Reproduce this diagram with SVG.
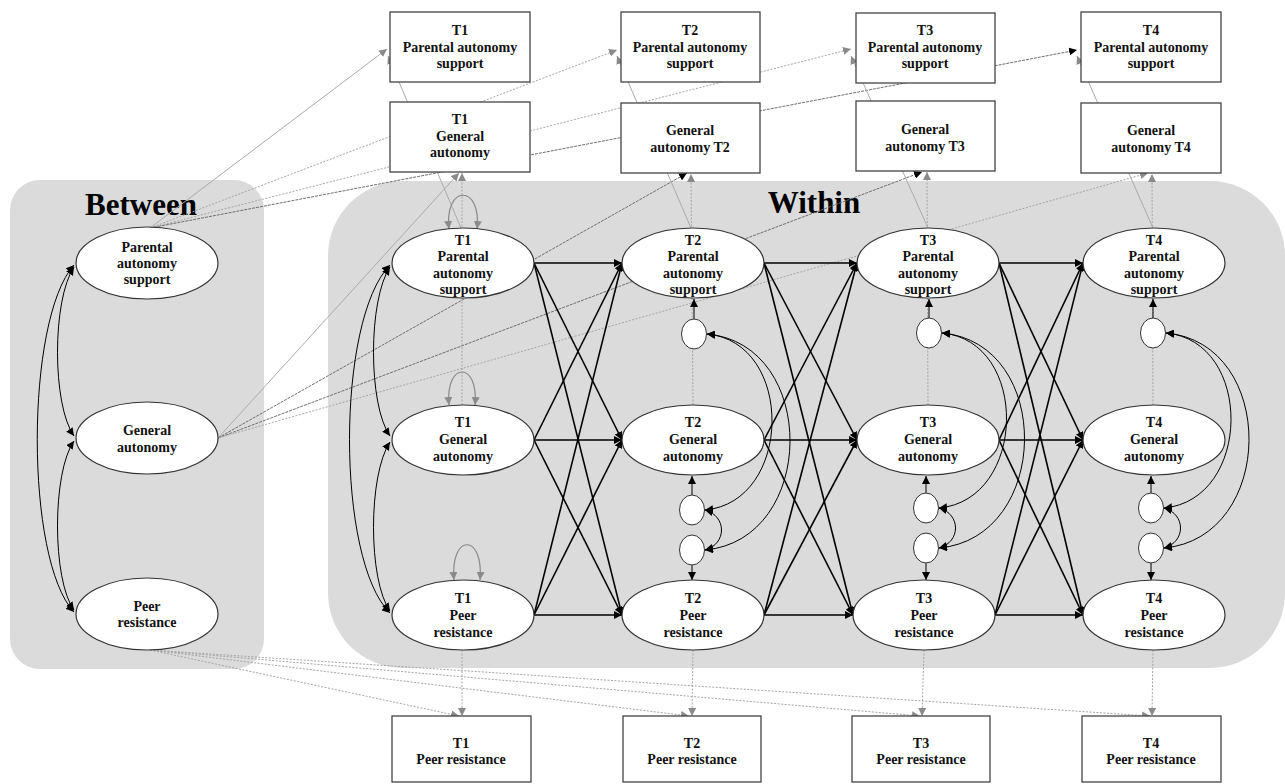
<svg xmlns="http://www.w3.org/2000/svg" width="1285" height="784" viewBox="0 0 1285 784">
<defs>
<marker id="ab" viewBox="0 0 10 10" refX="10" refY="5" markerWidth="8" markerHeight="8" orient="auto-start-reverse" markerUnits="userSpaceOnUse"><path d="M0,0 L10,5 L0,10 z" fill="#000"/></marker>
<marker id="ag" viewBox="0 0 10 10" refX="10" refY="5" markerWidth="8" markerHeight="8" orient="auto-start-reverse" markerUnits="userSpaceOnUse"><path d="M0,0 L10,5 L0,10 z" fill="#8a8a8a"/></marker>
</defs>
<style>
.t{font-family:"Liberation Serif","Times New Roman",serif;font-weight:bold;font-size:14px;text-anchor:middle;fill:#111}
.h{font-family:"Liberation Serif","Times New Roman",serif;font-weight:bold;font-size:31px;text-anchor:middle;fill:#000}
.panel{fill:#dbdbdb}
.el{fill:#fff;stroke:#333;stroke-width:1.2}
.er{fill:#fff;stroke:#333;stroke-width:1}
.box{fill:#fff;stroke:#444;stroke-width:1.3}
.cl{stroke:#000;stroke-width:1.6;fill:none;marker-end:url(#ab)}
.ar{stroke:#000;stroke-width:1;fill:none;marker-end:url(#ab)}
.cov{stroke:#000;stroke-width:1;fill:none;marker-start:url(#ab);marker-end:url(#ab)}
.loop{stroke:#8a8a8a;stroke-width:1.2;fill:none;marker-start:url(#ag);marker-end:url(#ag)}
.gs{stroke:#aaa;stroke-width:1;fill:none;marker-end:url(#ag)}
.gd{stroke:#a5a5a5;stroke-width:1;stroke-dasharray:2,1.5;fill:none;marker-end:url(#ag)}
.dd{stroke:#6e6e6e;stroke-width:1;stroke-dasharray:3,1;fill:none;marker-end:url(#ab)}
</style>
<rect x="0" y="0" width="1285" height="784" fill="#fff"/>
<g id="panels">
<rect class="panel" x="10" y="180" width="254" height="489" rx="30"/>
<rect class="panel" x="328" y="181" width="957" height="487" rx="75"/>
<text class="h" x="141" y="215">Between</text>
<text class="h" x="814" y="213">Within</text>
</g>
<g id="connectors">
<!-- between PAS to PAS boxes -->
<line class="gs" x1="150" y1="228" x2="387" y2="49"/>
<line class="gd" x1="150" y1="228" x2="617" y2="50"/>
<line class="gd" x1="150" y1="228" x2="851" y2="49"/>
<line class="dd" x1="150" y1="228" x2="1077" y2="50"/>
<!-- between General to General boxes -->
<line class="gs" x1="218" y1="438" x2="459" y2="173"/>
<line class="dd" x1="218" y1="438" x2="687" y2="173"/>
<line class="dd" x1="218" y1="438" x2="922" y2="172"/>
<line class="gd" x1="218" y1="438" x2="1148" y2="173"/>
<!-- between Peer to Peer boxes -->
<line class="gd" x1="150" y1="650" x2="459" y2="716"/>
<line class="gd" x1="150" y1="650" x2="689" y2="716"/>
<line class="gd" x1="150" y1="650" x2="920" y2="716"/>
<line class="gd" x1="150" y1="650" x2="1150" y2="716"/>
<!-- within PAS to PAS boxes -->
<line class="gs" x1="461" y1="228" x2="388" y2="56"/>
<line class="gs" x1="691" y1="228" x2="617" y2="56"/>
<line class="gs" x1="928" y1="228" x2="851" y2="56"/>
<line class="gs" x1="1153" y1="228" x2="1077" y2="56"/>
<!-- within General to General boxes -->
<line class="gd" x1="462" y1="405" x2="462" y2="173"/>
<line class="gd" x1="693" y1="405" x2="691" y2="174"/>
<line class="gd" x1="928" y1="405" x2="927" y2="172"/>
<line class="gd" x1="1153" y1="405" x2="1152" y2="174"/>
<!-- within Peer to Peer boxes -->
<line class="gd" x1="462" y1="650" x2="462" y2="716"/>
<line class="gd" x1="693" y1="650" x2="692" y2="716"/>
<line class="gd" x1="924" y1="650" x2="922" y2="716"/>
<line class="gd" x1="1153" y1="650" x2="1152" y2="716"/>
<!-- T1 variance loops -->
<path class="loop" d="M449 229 C444 184 482 184 477 229"/>
<path class="loop" d="M449 405 C445 361 479 361 475 405"/>
<path class="loop" d="M454 580 C450 533 484 533 480 580"/>
<!-- between covariances -->
<path class="cov" d="M74 267 C52 300 52 405 74 436"/>
<path class="cov" d="M74 265 C25 320 25 560 74 612"/>
<path class="cov" d="M74 441 C52 472 52 580 74 610"/>
<!-- T1 within covariances -->
<path class="cov" d="M390 267 C368 300 368 405 390 436"/>
<path class="cov" d="M390 265 C336 320 336 560 390 613"/>
<path class="cov" d="M390 442 C368 475 368 580 390 611"/>
<!-- cross-lagged T1->T2 -->
<line class="cl" x1="534" y1="263" x2="622" y2="263"/>
<line class="cl" x1="534" y1="263" x2="622" y2="440"/>
<line class="cl" x1="534" y1="263" x2="622" y2="615"/>
<line class="cl" x1="534" y1="440" x2="622" y2="263"/>
<line class="cl" x1="534" y1="440" x2="622" y2="440"/>
<line class="cl" x1="534" y1="440" x2="622" y2="615"/>
<line class="cl" x1="534" y1="615" x2="622" y2="263"/>
<line class="cl" x1="534" y1="615" x2="622" y2="440"/>
<line class="cl" x1="534" y1="615" x2="622" y2="615"/>
<!-- T2->T3 -->
<line class="cl" x1="764" y1="263" x2="857" y2="263"/>
<line class="cl" x1="764" y1="263" x2="857" y2="440"/>
<line class="cl" x1="764" y1="263" x2="853" y2="615"/>
<line class="cl" x1="764" y1="440" x2="857" y2="263"/>
<line class="cl" x1="764" y1="440" x2="857" y2="440"/>
<line class="cl" x1="764" y1="440" x2="853" y2="615"/>
<line class="cl" x1="764" y1="615" x2="857" y2="263"/>
<line class="cl" x1="764" y1="615" x2="857" y2="440"/>
<line class="cl" x1="764" y1="615" x2="853" y2="615"/>
<!-- T3->T4 -->
<line class="cl" x1="999" y1="263" x2="1083" y2="263"/>
<line class="cl" x1="999" y1="263" x2="1083" y2="440"/>
<line class="cl" x1="999" y1="263" x2="1083" y2="615"/>
<line class="cl" x1="999" y1="440" x2="1083" y2="263"/>
<line class="cl" x1="999" y1="440" x2="1083" y2="440"/>
<line class="cl" x1="999" y1="440" x2="1083" y2="615"/>
<line class="cl" x1="995" y1="615" x2="1083" y2="263"/>
<line class="cl" x1="995" y1="615" x2="1083" y2="440"/>
<line class="cl" x1="995" y1="615" x2="1083" y2="615"/>
<!-- residual arrows -->
<line class="ar" x1="694" y1="319" x2="694" y2="299"/>
<line class="ar" x1="692" y1="495" x2="692" y2="476"/>
<line class="ar" x1="692" y1="565" x2="692" y2="580"/>
<line class="ar" x1="929" y1="318" x2="929" y2="299"/>
<line class="ar" x1="926" y1="493" x2="926" y2="476"/>
<line class="ar" x1="926" y1="563" x2="926" y2="580"/>
<line class="ar" x1="1153" y1="318" x2="1153" y2="299"/>
<line class="ar" x1="1151" y1="493" x2="1151" y2="476"/>
<line class="ar" x1="1151" y1="563" x2="1151" y2="580"/>
<!-- residual covariances T2 -->
<path class="cov" d="M707 334 C795 342 793 502 705 510"/>
<path class="cov" d="M707 334 C819 344 817 540 705 550"/>
<path class="cov" d="M705 510 C727 516 727 544 705 550"/>
<!-- T3 -->
<path class="cov" d="M942 333 C1030 341 1027 500 939 508"/>
<path class="cov" d="M942 333 C1054 343 1051 538 939 548"/>
<path class="cov" d="M939 508 C961 514 961 542 939 548"/>
<!-- T4 -->
<path class="cov" d="M1166 333 C1254 341 1252 500 1164 508"/>
<path class="cov" d="M1166 333 C1278 343 1276 538 1164 548"/>
<path class="cov" d="M1164 508 C1186 514 1186 542 1164 548"/>
</g>
<g id="between-pas"><ellipse class="el" cx="147" cy="263" rx="71" ry="36"/><text class="t" x="147" y="252">Parental</text><text class="t" x="147" y="268">autonomy</text><text class="t" x="147" y="284">support</text></g>
<g id="between-gen"><ellipse class="el" cx="147" cy="438" rx="71" ry="36"/><text class="t" x="147" y="435">General</text><text class="t" x="147" y="452">autonomy</text></g>
<g id="between-peer"><ellipse class="el" cx="147" cy="614" rx="71" ry="36"/><text class="t" x="147" y="611">Peer</text><text class="t" x="147" y="627">resistance</text></g>

<g id="w-t1-pas"><ellipse class="el" cx="463" cy="263" rx="71" ry="35"/><text class="t" x="463" y="245">T1</text><text class="t" x="463" y="261">Parental</text><text class="t" x="463" y="278">autonomy</text><text class="t" x="463" y="294">support</text></g>
<g id="w-t1-gen"><ellipse class="el" cx="463" cy="440" rx="71" ry="35"/><text class="t" x="463" y="427">T1</text><text class="t" x="463" y="444">General</text><text class="t" x="463" y="461">autonomy</text></g>
<g id="w-t1-peer"><ellipse class="el" cx="463" cy="615" rx="71" ry="35"/><text class="t" x="463" y="603">T1</text><text class="t" x="463" y="620">Peer</text><text class="t" x="463" y="637">resistance</text></g>

<g id="w-t2-pas"><ellipse class="el" cx="693" cy="263" rx="71" ry="35"/><text class="t" x="693" y="245">T2</text><text class="t" x="693" y="261">Parental</text><text class="t" x="693" y="278">autonomy</text><text class="t" x="693" y="294">support</text></g>
<g id="w-t2-gen"><ellipse class="el" cx="693" cy="440" rx="71" ry="35"/><text class="t" x="693" y="427">T2</text><text class="t" x="693" y="444">General</text><text class="t" x="693" y="461">autonomy</text></g>
<g id="w-t2-peer"><ellipse class="el" cx="693" cy="615" rx="71" ry="35"/><text class="t" x="693" y="603">T2</text><text class="t" x="693" y="620">Peer</text><text class="t" x="693" y="637">resistance</text></g>

<g id="w-t3-pas"><ellipse class="el" cx="928" cy="263" rx="71" ry="35"/><text class="t" x="928" y="245">T3</text><text class="t" x="928" y="261">Parental</text><text class="t" x="928" y="278">autonomy</text><text class="t" x="928" y="294">support</text></g>
<g id="w-t3-gen"><ellipse class="el" cx="928" cy="440" rx="71" ry="35"/><text class="t" x="928" y="427">T3</text><text class="t" x="928" y="444">General</text><text class="t" x="928" y="461">autonomy</text></g>
<g id="w-t3-peer"><ellipse class="el" cx="924" cy="615" rx="71" ry="35"/><text class="t" x="924" y="603">T3</text><text class="t" x="924" y="620">Peer</text><text class="t" x="924" y="637">resistance</text></g>

<g id="w-t4-pas"><ellipse class="el" cx="1154" cy="263" rx="71" ry="35"/><text class="t" x="1154" y="245">T4</text><text class="t" x="1154" y="261">Parental</text><text class="t" x="1154" y="278">autonomy</text><text class="t" x="1154" y="294">support</text></g>
<g id="w-t4-gen"><ellipse class="el" cx="1154" cy="440" rx="71" ry="35"/><text class="t" x="1154" y="427">T4</text><text class="t" x="1154" y="444">General</text><text class="t" x="1154" y="461">autonomy</text></g>
<g id="w-t4-peer"><ellipse class="el" cx="1154" cy="615" rx="71" ry="35"/><text class="t" x="1154" y="603">T4</text><text class="t" x="1154" y="620">Peer</text><text class="t" x="1154" y="637">resistance</text></g>

<g id="e-t2-pas"><ellipse class="er" cx="694" cy="334" rx="12.5" ry="15"/></g>
<g id="e-t2-gen"><ellipse class="er" cx="692" cy="510" rx="12.5" ry="15"/></g>
<g id="e-t2-peer"><ellipse class="er" cx="692" cy="550" rx="12.5" ry="15"/></g>
<g id="e-t3-pas"><ellipse class="er" cx="929" cy="333" rx="12.5" ry="15"/></g>
<g id="e-t3-gen"><ellipse class="er" cx="926" cy="508" rx="12.5" ry="15"/></g>
<g id="e-t3-peer"><ellipse class="er" cx="926" cy="548" rx="12.5" ry="15"/></g>
<g id="e-t4-pas"><ellipse class="er" cx="1153" cy="333" rx="12.5" ry="15"/></g>
<g id="e-t4-gen"><ellipse class="er" cx="1151" cy="508" rx="12.5" ry="15"/></g>
<g id="e-t4-peer"><ellipse class="er" cx="1151" cy="548" rx="12.5" ry="15"/></g>

<g id="o-t1-pas"><rect class="box" x="390" y="12" width="140" height="70"/><text class="t" x="460" y="35">T1</text><text class="t" x="460" y="52">Parental autonomy</text><text class="t" x="460" y="68">support</text></g>
<g id="o-t2-pas"><rect class="box" x="621" y="12" width="139" height="70"/><text class="t" x="690" y="35">T2</text><text class="t" x="690" y="52">Parental autonomy</text><text class="t" x="690" y="68">support</text></g>
<g id="o-t3-pas"><rect class="box" x="856" y="13" width="139" height="70"/><text class="t" x="925" y="35">T3</text><text class="t" x="925" y="52">Parental autonomy</text><text class="t" x="925" y="68">support</text></g>
<g id="o-t4-pas"><rect class="box" x="1081" y="12" width="140" height="70"/><text class="t" x="1151" y="35">T4</text><text class="t" x="1151" y="52">Parental autonomy</text><text class="t" x="1151" y="68">support</text></g>

<g id="o-t1-gen"><rect class="box" x="390" y="102" width="140" height="70"/><text class="t" x="460" y="124">T1</text><text class="t" x="460" y="141">General</text><text class="t" x="460" y="157">autonomy</text></g>
<g id="o-t2-gen"><rect class="box" x="621" y="103" width="139" height="70"/><text class="t" x="690" y="135">General</text><text class="t" x="690" y="152">autonomy T2</text></g>
<g id="o-t3-gen"><rect class="box" x="856" y="101" width="139" height="70"/><text class="t" x="925" y="134">General</text><text class="t" x="925" y="151">autonomy T3</text></g>
<g id="o-t4-gen"><rect class="box" x="1081" y="103" width="140" height="70"/><text class="t" x="1151" y="135">General</text><text class="t" x="1151" y="152">autonomy T4</text></g>

<g id="o-t1-peer"><rect class="box" x="392" y="716" width="139" height="66"/><text class="t" x="461" y="748">T1</text><text class="t" x="461" y="764">Peer resistance</text></g>
<g id="o-t2-peer"><rect class="box" x="623" y="716" width="138" height="66"/><text class="t" x="692" y="748">T2</text><text class="t" x="692" y="764">Peer resistance</text></g>
<g id="o-t3-peer"><rect class="box" x="852" y="716" width="138" height="66"/><text class="t" x="921" y="748">T3</text><text class="t" x="921" y="764">Peer resistance</text></g>
<g id="o-t4-peer"><rect class="box" x="1082" y="716" width="139" height="66"/><text class="t" x="1151" y="748">T4</text><text class="t" x="1151" y="764">Peer resistance</text></g>
</svg>
